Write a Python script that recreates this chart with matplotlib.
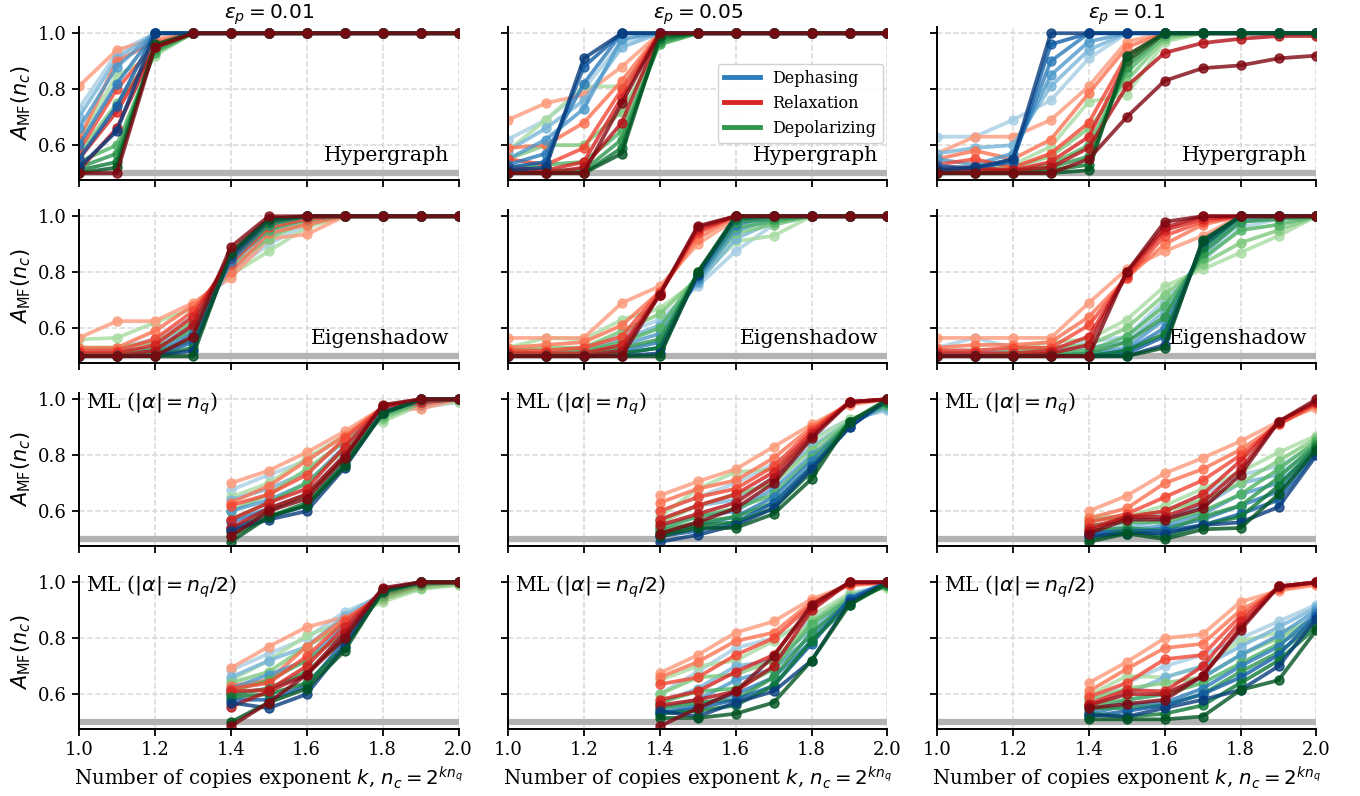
import numpy as np
import matplotlib
matplotlib.use("Agg")
import matplotlib.pyplot as plt
from matplotlib.lines import Line2D

plt.rcParams['font.family'] = ['DejaVu Serif']
plt.rcParams['mathtext.fontset'] = 'dejavusans'

# copy exponents k
K_FULL = [1.0, 1.1, 1.2, 1.3, 1.4, 1.5, 1.6, 1.7, 1.8, 1.9, 2.0]
K_ML = [1.4, 1.5, 1.6, 1.7, 1.8, 1.9, 2.0]

EPS_LABELS = ['0.01', '0.05', '0.1']
NOISE_NAMES = ['Dephasing', 'Relaxation', 'Depolarizing']
METHOD_LABELS = ['Hypergraph', 'Eigenshadow',
                 r'ML ($|\alpha| = n_q$)', r'ML ($|\alpha| = n_q/2$)']
RANDOM_GUESS = 0.5

# ---------------- Hypergraph, eps_p = 0.01 (rows: increasing n_q) ----------------
HYP_E001_DEPH = [
    [0.73, 0.93, 1.0, 1.0, 1.0, 1.0, 1.0, 1.0, 1.0, 1.0, 1.0],
    [0.70, 0.91, 1.0, 1.0, 1.0, 1.0, 1.0, 1.0, 1.0, 1.0, 1.0],
    [0.66, 0.88, 1.0, 1.0, 1.0, 1.0, 1.0, 1.0, 1.0, 1.0, 1.0],
    [0.60, 0.82, 1.0, 1.0, 1.0, 1.0, 1.0, 1.0, 1.0, 1.0, 1.0],
    [0.55, 0.74, 1.0, 1.0, 1.0, 1.0, 1.0, 1.0, 1.0, 1.0, 1.0],
    [0.52, 0.65, 1.0, 1.0, 1.0, 1.0, 1.0, 1.0, 1.0, 1.0, 1.0],
]
HYP_E001_RELAX = [
    [0.81, 0.94, 0.98, 1.0, 1.0, 1.0, 1.0, 1.0, 1.0, 1.0, 1.0],
    [0.62, 0.90, 0.97, 1.0, 1.0, 1.0, 1.0, 1.0, 1.0, 1.0, 1.0],
    [0.58, 0.80, 0.96, 1.0, 1.0, 1.0, 1.0, 1.0, 1.0, 1.0, 1.0],
    [0.55, 0.72, 0.95, 1.0, 1.0, 1.0, 1.0, 1.0, 1.0, 1.0, 1.0],
    [0.51, 0.66, 0.95, 1.0, 1.0, 1.0, 1.0, 1.0, 1.0, 1.0, 1.0],
    [0.50, 0.50, 0.95, 1.0, 1.0, 1.0, 1.0, 1.0, 1.0, 1.0, 1.0],
]
HYP_E001_DEPOL = [
    [0.62, 0.85, 0.92, 1.0, 1.0, 1.0, 1.0, 1.0, 1.0, 1.0, 1.0],
    [0.57, 0.75, 0.93, 1.0, 1.0, 1.0, 1.0, 1.0, 1.0, 1.0, 1.0],
    [0.54, 0.60, 0.93, 1.0, 1.0, 1.0, 1.0, 1.0, 1.0, 1.0, 1.0],
    [0.52, 0.57, 0.94, 1.0, 1.0, 1.0, 1.0, 1.0, 1.0, 1.0, 1.0],
    [0.51, 0.54, 0.95, 1.0, 1.0, 1.0, 1.0, 1.0, 1.0, 1.0, 1.0],
    [0.50, 0.52, 0.96, 1.0, 1.0, 1.0, 1.0, 1.0, 1.0, 1.0, 1.0],
]

# ---------------- Hypergraph, eps_p = 0.05 ----------------
HYP_E005_DEPH = [
    [0.62, 0.69, 0.80, 0.97, 1.0, 1.0, 1.0, 1.0, 1.0, 1.0, 1.0],
    [0.58, 0.66, 0.76, 0.95, 1.0, 1.0, 1.0, 1.0, 1.0, 1.0, 1.0],
    [0.55, 0.62, 0.73, 0.98, 1.0, 1.0, 1.0, 1.0, 1.0, 1.0, 1.0],
    [0.53, 0.57, 0.82, 1.0, 1.0, 1.0, 1.0, 1.0, 1.0, 1.0, 1.0],
    [0.52, 0.54, 0.88, 1.0, 1.0, 1.0, 1.0, 1.0, 1.0, 1.0, 1.0],
    [0.51, 0.52, 0.91, 1.0, 1.0, 1.0, 1.0, 1.0, 1.0, 1.0, 1.0],
]
HYP_E005_RELAX = [
    [0.69, 0.75, 0.78, 0.88, 1.0, 1.0, 1.0, 1.0, 1.0, 1.0, 1.0],
    [0.59, 0.60, 0.68, 0.83, 1.0, 1.0, 1.0, 1.0, 1.0, 1.0, 1.0],
    [0.55, 0.53, 0.59, 0.80, 1.0, 1.0, 1.0, 1.0, 1.0, 1.0, 1.0],
    [0.52, 0.51, 0.54, 0.77, 1.0, 1.0, 1.0, 1.0, 1.0, 1.0, 1.0],
    [0.51, 0.50, 0.52, 0.68, 1.0, 1.0, 1.0, 1.0, 1.0, 1.0, 1.0],
    [0.50, 0.50, 0.50, 0.75, 1.0, 1.0, 1.0, 1.0, 1.0, 1.0, 1.0],
]
HYP_E005_DEPOL = [
    [0.58, 0.69, 0.81, 0.81, 0.97, 1.0, 1.0, 1.0, 1.0, 1.0, 1.0],
    [0.55, 0.60, 0.60, 0.72, 0.96, 1.0, 1.0, 1.0, 1.0, 1.0, 1.0],
    [0.52, 0.53, 0.54, 0.65, 0.96, 1.0, 1.0, 1.0, 1.0, 1.0, 1.0],
    [0.51, 0.51, 0.51, 0.62, 0.97, 1.0, 1.0, 1.0, 1.0, 1.0, 1.0],
    [0.50, 0.50, 0.50, 0.59, 0.98, 1.0, 1.0, 1.0, 1.0, 1.0, 1.0],
    [0.50, 0.50, 0.50, 0.57, 0.99, 1.0, 1.0, 1.0, 1.0, 1.0, 1.0],
]

# ---------------- Hypergraph, eps_p = 0.1 ----------------
HYP_E010_DEPH = [
    [0.63, 0.63, 0.69, 0.76, 0.91, 1.0, 1.0, 1.0, 1.0, 1.0, 1.0],
    [0.57, 0.59, 0.60, 0.81, 0.94, 1.0, 1.0, 1.0, 1.0, 1.0, 1.0],
    [0.55, 0.53, 0.57, 0.85, 0.97, 1.0, 1.0, 1.0, 1.0, 1.0, 1.0],
    [0.53, 0.51, 0.55, 0.90, 1.0, 1.0, 1.0, 1.0, 1.0, 1.0, 1.0],
    [0.52, 0.52, 0.54, 0.96, 1.0, 1.0, 1.0, 1.0, 1.0, 1.0, 1.0],
    [0.51, 0.52, 0.55, 1.0, 1.0, 1.0, 1.0, 1.0, 1.0, 1.0, 1.0],
]
HYP_E010_RELAX = [
    [0.57, 0.63, 0.63, 0.69, 0.81, 0.97, 1.0, 1.0, 1.0, 1.0, 1.0],
    [0.55, 0.58, 0.55, 0.62, 0.785, 0.95, 1.0, 1.0, 1.0, 1.0, 1.0],
    [0.53, 0.55, 0.52, 0.57, 0.68, 0.92, 1.0, 1.0, 1.0, 1.0, 1.0],
    [0.52, 0.52, 0.51, 0.54, 0.63, 0.90, 1.0, 1.0, 1.0, 1.0, 1.0],
    [0.51, 0.51, 0.51, 0.52, 0.59, 0.81, 0.93, 0.965, 0.98, 0.99, 0.99],
    [0.50, 0.50, 0.50, 0.50, 0.55, 0.70, 0.83, 0.875, 0.885, 0.91, 0.92],
]
HYP_E010_DEPOL = [
    [0.52, 0.52, 0.53, 0.595, 0.755, 0.78, 0.97, 1.0, 1.0, 1.0, 1.0],
    [0.51, 0.51, 0.52, 0.56, 0.66, 0.83, 0.98, 1.0, 1.0, 1.0, 1.0],
    [0.50, 0.51, 0.51, 0.53, 0.60, 0.86, 0.99, 1.0, 1.0, 1.0, 1.0],
    [0.50, 0.50, 0.50, 0.52, 0.56, 0.88, 1.0, 1.0, 1.0, 1.0, 1.0],
    [0.50, 0.50, 0.50, 0.51, 0.53, 0.90, 1.0, 1.0, 1.0, 1.0, 1.0],
    [0.50, 0.50, 0.50, 0.50, 0.51, 0.92, 1.0, 1.0, 1.0, 1.0, 1.0],
]

# ---------------- Eigenshadow, eps_p = 0.01 ----------------
EIG_E001_DEPH = [
    [0.52, 0.53, 0.56, 0.64, 0.80, 0.90, 0.97, 1.0, 1.0, 1.0, 1.0],
    [0.51, 0.52, 0.53, 0.62, 0.81, 0.93, 0.98, 1.0, 1.0, 1.0, 1.0],
    [0.50, 0.51, 0.52, 0.60, 0.83, 0.95, 0.99, 1.0, 1.0, 1.0, 1.0],
    [0.50, 0.50, 0.51, 0.58, 0.84, 0.97, 1.0, 1.0, 1.0, 1.0, 1.0],
    [0.50, 0.50, 0.50, 0.55, 0.85, 0.98, 1.0, 1.0, 1.0, 1.0, 1.0],
    [0.50, 0.50, 0.50, 0.52, 0.86, 0.99, 1.0, 1.0, 1.0, 1.0, 1.0],
]
EIG_E001_RELAX = [
    [0.565, 0.625, 0.625, 0.69, 0.78, 0.92, 0.935, 1.0, 1.0, 1.0, 1.0],
    [0.53, 0.53, 0.59, 0.68, 0.80, 0.94, 0.97, 1.0, 1.0, 1.0, 1.0],
    [0.52, 0.52, 0.56, 0.66, 0.83, 0.96, 0.99, 1.0, 1.0, 1.0, 1.0],
    [0.51, 0.51, 0.54, 0.64, 0.85, 0.98, 1.0, 1.0, 1.0, 1.0, 1.0],
    [0.50, 0.50, 0.52, 0.61, 0.87, 0.99, 1.0, 1.0, 1.0, 1.0, 1.0],
    [0.50, 0.50, 0.50, 0.57, 0.89, 1.0, 1.0, 1.0, 1.0, 1.0, 1.0],
]
EIG_E001_DEPOL = [
    [0.56, 0.565, 0.62, 0.67, 0.79, 0.875, 0.96, 1.0, 1.0, 1.0, 1.0],
    [0.53, 0.53, 0.55, 0.62, 0.82, 0.92, 0.98, 1.0, 1.0, 1.0, 1.0],
    [0.51, 0.51, 0.53, 0.59, 0.84, 0.95, 0.99, 1.0, 1.0, 1.0, 1.0],
    [0.50, 0.50, 0.51, 0.56, 0.85, 0.97, 1.0, 1.0, 1.0, 1.0, 1.0],
    [0.50, 0.50, 0.50, 0.53, 0.86, 0.98, 1.0, 1.0, 1.0, 1.0, 1.0],
    [0.50, 0.50, 0.50, 0.50, 0.87, 0.99, 1.0, 1.0, 1.0, 1.0, 1.0],
]

# ---------------- Eigenshadow, eps_p = 0.05 ----------------
EIG_E005_DEPH = [
    [0.51, 0.51, 0.53, 0.58, 0.63, 0.75, 0.875, 0.97, 1.0, 1.0, 1.0],
    [0.50, 0.50, 0.52, 0.56, 0.61, 0.76, 0.92, 0.98, 1.0, 1.0, 1.0],
    [0.50, 0.50, 0.51, 0.54, 0.58, 0.77, 0.95, 0.99, 1.0, 1.0, 1.0],
    [0.50, 0.50, 0.50, 0.52, 0.55, 0.78, 0.97, 1.0, 1.0, 1.0, 1.0],
    [0.50, 0.50, 0.50, 0.51, 0.53, 0.79, 0.99, 1.0, 1.0, 1.0, 1.0],
    [0.50, 0.50, 0.50, 0.50, 0.51, 0.79, 1.0, 1.0, 1.0, 1.0, 1.0],
]
EIG_E005_RELAX = [
    [0.565, 0.565, 0.565, 0.69, 0.75, 0.90, 0.99, 1.0, 1.0, 1.0, 1.0],
    [0.53, 0.54, 0.55, 0.61, 0.73, 0.92, 1.0, 1.0, 1.0, 1.0, 1.0],
    [0.52, 0.52, 0.53, 0.57, 0.73, 0.94, 1.0, 1.0, 1.0, 1.0, 1.0],
    [0.51, 0.51, 0.51, 0.54, 0.72, 0.95, 1.0, 1.0, 1.0, 1.0, 1.0],
    [0.50, 0.50, 0.50, 0.52, 0.72, 0.96, 1.0, 1.0, 1.0, 1.0, 1.0],
    [0.50, 0.50, 0.50, 0.50, 0.72, 0.965, 1.0, 1.0, 1.0, 1.0, 1.0],
]
EIG_E005_DEPOL = [
    [0.53, 0.565, 0.56, 0.63, 0.67, 0.77, 0.91, 0.93, 1.0, 1.0, 1.0],
    [0.52, 0.53, 0.53, 0.59, 0.65, 0.78, 0.94, 0.97, 1.0, 1.0, 1.0],
    [0.51, 0.51, 0.52, 0.55, 0.60, 0.79, 0.96, 0.98, 1.0, 1.0, 1.0],
    [0.50, 0.50, 0.51, 0.53, 0.56, 0.79, 0.98, 0.99, 1.0, 1.0, 1.0],
    [0.50, 0.50, 0.50, 0.51, 0.53, 0.80, 0.99, 1.0, 1.0, 1.0, 1.0],
    [0.50, 0.50, 0.50, 0.50, 0.50, 0.80, 1.0, 1.0, 1.0, 1.0, 1.0],
]

# ---------------- Eigenshadow, eps_p = 0.1 ----------------
EIG_E010_DEPH = [
    [0.53, 0.565, 0.53, 0.53, 0.55, 0.57, 0.70, 0.84, 0.96, 0.99, 1.0],
    [0.52, 0.52, 0.52, 0.52, 0.53, 0.55, 0.66, 0.86, 0.98, 1.0, 1.0],
    [0.51, 0.51, 0.51, 0.51, 0.51, 0.53, 0.63, 0.88, 0.99, 1.0, 1.0],
    [0.50, 0.50, 0.50, 0.50, 0.50, 0.52, 0.60, 0.89, 1.0, 1.0, 1.0],
    [0.50, 0.50, 0.50, 0.50, 0.50, 0.51, 0.57, 0.90, 1.0, 1.0, 1.0],
    [0.50, 0.50, 0.50, 0.50, 0.50, 0.50, 0.54, 0.91, 1.0, 1.0, 1.0],
]
EIG_E010_RELAX = [
    [0.565, 0.565, 0.565, 0.565, 0.69, 0.81, 0.875, 0.93, 1.0, 1.0, 1.0],
    [0.53, 0.54, 0.54, 0.55, 0.64, 0.78, 0.90, 0.97, 1.0, 1.0, 1.0],
    [0.52, 0.52, 0.53, 0.53, 0.61, 0.78, 0.93, 0.98, 1.0, 1.0, 1.0],
    [0.51, 0.51, 0.51, 0.52, 0.57, 0.79, 0.95, 0.99, 1.0, 1.0, 1.0],
    [0.50, 0.50, 0.50, 0.51, 0.54, 0.80, 0.96, 1.0, 1.0, 1.0, 1.0],
    [0.50, 0.50, 0.50, 0.50, 0.50, 0.80, 0.98, 1.0, 1.0, 1.0, 1.0],
]
EIG_E010_DEPOL = [
    [0.52, 0.50, 0.53, 0.55, 0.56, 0.63, 0.75, 0.81, 0.87, 0.93, 1.0],
    [0.51, 0.50, 0.52, 0.53, 0.54, 0.60, 0.72, 0.83, 0.905, 0.95, 1.0],
    [0.50, 0.50, 0.51, 0.51, 0.52, 0.57, 0.68, 0.85, 0.95, 0.97, 1.0],
    [0.50, 0.50, 0.50, 0.50, 0.51, 0.55, 0.64, 0.87, 0.98, 0.99, 1.0],
    [0.50, 0.50, 0.50, 0.50, 0.50, 0.52, 0.58, 0.89, 1.0, 1.0, 1.0],
    [0.50, 0.50, 0.50, 0.50, 0.50, 0.50, 0.53, 0.915, 1.0, 1.0, 1.0],
]

# ---------------- ML |alpha| = n_q, eps_p = 0.01 ----------------
MLF_E001_DEPH = [
    [0.675, 0.73, 0.78, 0.87, 0.95, 0.97, 0.99],
    [0.64, 0.68, 0.74, 0.85, 0.96, 0.98, 1.0],
    [0.60, 0.64, 0.70, 0.83, 0.96, 0.99, 1.0],
    [0.56, 0.61, 0.66, 0.80, 0.96, 0.99, 1.0],
    [0.54, 0.58, 0.62, 0.77, 0.95, 1.0, 1.0],
    [0.53, 0.57, 0.60, 0.755, 0.95, 1.0, 1.0],
]
MLF_E001_RELAX = [
    [0.70, 0.745, 0.81, 0.885, 0.97, 0.965, 1.0],
    [0.63, 0.69, 0.78, 0.87, 0.97, 0.98, 1.0],
    [0.62, 0.66, 0.73, 0.86, 0.97, 0.99, 1.0],
    [0.57, 0.63, 0.68, 0.83, 0.975, 0.99, 1.0],
    [0.54, 0.61, 0.66, 0.80, 0.975, 1.0, 1.0],
    [0.51, 0.60, 0.645, 0.79, 0.98, 1.0, 1.0],
]
MLF_E001_DEPOL = [
    [0.65, 0.70, 0.79, 0.87, 0.92, 0.98, 0.99],
    [0.60, 0.66, 0.75, 0.85, 0.93, 0.985, 1.0],
    [0.57, 0.63, 0.70, 0.82, 0.94, 0.99, 1.0],
    [0.53, 0.60, 0.66, 0.79, 0.95, 0.995, 1.0],
    [0.51, 0.58, 0.63, 0.77, 0.95, 1.0, 1.0],
    [0.49, 0.58, 0.62, 0.76, 0.95, 1.0, 1.0],
]

# ---------------- ML |alpha| = n_q, eps_p = 0.05 ----------------
MLF_E005_DEPH = [
    [0.60, 0.65, 0.70, 0.77, 0.86, 0.93, 0.96],
    [0.57, 0.62, 0.64, 0.72, 0.83, 0.92, 0.97],
    [0.54, 0.58, 0.60, 0.68, 0.80, 0.91, 0.98],
    [0.52, 0.55, 0.58, 0.65, 0.78, 0.91, 0.99],
    [0.51, 0.53, 0.56, 0.63, 0.76, 0.90, 1.0],
    [0.49, 0.515, 0.55, 0.61, 0.75, 0.90, 1.0],
]
MLF_E005_RELAX = [
    [0.656, 0.706, 0.75, 0.83, 0.91, 0.98, 1.0],
    [0.63, 0.68, 0.71, 0.79, 0.90, 0.985, 1.0],
    [0.60, 0.65, 0.68, 0.76, 0.89, 0.99, 1.0],
    [0.57, 0.62, 0.66, 0.74, 0.88, 0.99, 1.0],
    [0.55, 0.59, 0.63, 0.72, 0.87, 0.99, 1.0],
    [0.52, 0.56, 0.61, 0.70, 0.86, 0.99, 1.0],
]
MLF_E005_DEPOL = [
    [0.58, 0.68, 0.74, 0.75, 0.85, 0.93, 0.97],
    [0.56, 0.62, 0.66, 0.70, 0.82, 0.92, 0.98],
    [0.54, 0.58, 0.61, 0.66, 0.79, 0.92, 0.98],
    [0.53, 0.56, 0.58, 0.63, 0.76, 0.92, 0.99],
    [0.52, 0.55, 0.56, 0.61, 0.74, 0.92, 0.99],
    [0.51, 0.54, 0.54, 0.59, 0.715, 0.92, 1.0],
]

# ---------------- ML |alpha| = n_q, eps_p = 0.1 ----------------
MLF_E010_DEPH = [
    [0.55, 0.55, 0.60, 0.66, 0.73, 0.76, 0.84],
    [0.53, 0.54, 0.57, 0.62, 0.70, 0.73, 0.83],
    [0.52, 0.53, 0.55, 0.59, 0.66, 0.70, 0.82],
    [0.51, 0.52, 0.54, 0.57, 0.62, 0.67, 0.82],
    [0.52, 0.53, 0.53, 0.55, 0.59, 0.64, 0.81],
    [0.51, 0.52, 0.52, 0.55, 0.56, 0.615, 0.80],
]
MLF_E010_RELAX = [
    [0.60, 0.655, 0.735, 0.79, 0.85, 0.92, 0.97],
    [0.575, 0.61, 0.70, 0.75, 0.82, 0.91, 0.98],
    [0.56, 0.59, 0.65, 0.71, 0.80, 0.91, 0.985],
    [0.54, 0.58, 0.60, 0.66, 0.78, 0.92, 0.99],
    [0.53, 0.58, 0.58, 0.63, 0.75, 0.92, 0.99],
    [0.52, 0.57, 0.57, 0.61, 0.73, 0.92, 1.0],
]
MLF_E010_DEPOL = [
    [0.58, 0.58, 0.62, 0.68, 0.74, 0.81, 0.87],
    [0.57, 0.575, 0.60, 0.64, 0.70, 0.78, 0.86],
    [0.55, 0.56, 0.56, 0.60, 0.66, 0.75, 0.85],
    [0.53, 0.54, 0.53, 0.58, 0.62, 0.72, 0.84],
    [0.50, 0.53, 0.51, 0.55, 0.58, 0.69, 0.83],
    [0.49, 0.52, 0.50, 0.535, 0.54, 0.66, 0.82],
]

# ---------------- ML |alpha| = n_q/2, eps_p = 0.01 ----------------
MLH_E001_DEPH = [
    [0.685, 0.745, 0.80, 0.895, 0.95, 0.985, 0.995],
    [0.66, 0.72, 0.77, 0.88, 0.96, 0.99, 1.0],
    [0.62, 0.67, 0.72, 0.85, 0.965, 0.995, 1.0],
    [0.60, 0.62, 0.67, 0.82, 0.97, 1.0, 1.0],
    [0.58, 0.58, 0.63, 0.79, 0.97, 1.0, 1.0],
    [0.57, 0.55, 0.60, 0.77, 0.97, 1.0, 1.0],
]
MLH_E001_RELAX = [
    [0.693, 0.77, 0.84, 0.875, 0.94, 0.985, 0.995],
    [0.63, 0.65, 0.77, 0.87, 0.95, 0.99, 1.0],
    [0.62, 0.64, 0.735, 0.86, 0.96, 0.995, 1.0],
    [0.61, 0.615, 0.70, 0.84, 0.97, 1.0, 1.0],
    [0.555, 0.61, 0.67, 0.82, 0.975, 1.0, 1.0],
    [0.485, 0.57, 0.67, 0.80, 0.98, 1.0, 1.0],
]
MLH_E001_DEPOL = [
    [0.65, 0.72, 0.81, 0.86, 0.93, 0.975, 0.99],
    [0.64, 0.68, 0.77, 0.85, 0.94, 0.98, 0.995],
    [0.61, 0.65, 0.72, 0.82, 0.95, 0.99, 1.0],
    [0.60, 0.62, 0.68, 0.80, 0.96, 0.995, 1.0],
    [0.59, 0.60, 0.64, 0.77, 0.965, 1.0, 1.0],
    [0.50, 0.57, 0.62, 0.755, 0.97, 1.0, 1.0],
]

# ---------------- ML |alpha| = n_q/2, eps_p = 0.05 ----------------
MLH_E005_DEPH = [
    [0.60, 0.68, 0.765, 0.80, 0.86, 0.96, 0.99],
    [0.57, 0.62, 0.70, 0.72, 0.83, 0.95, 0.995],
    [0.55, 0.58, 0.65, 0.69, 0.81, 0.945, 1.0],
    [0.535, 0.56, 0.60, 0.66, 0.79, 0.94, 1.0],
    [0.53, 0.55, 0.58, 0.63, 0.78, 0.94, 1.0],
    [0.54, 0.52, 0.57, 0.61, 0.72, 0.93, 1.0],
]
MLH_E005_RELAX = [
    [0.675, 0.74, 0.82, 0.86, 0.94, 0.99, 0.995],
    [0.66, 0.715, 0.79, 0.82, 0.93, 0.99, 1.0],
    [0.635, 0.66, 0.74, 0.80, 0.92, 0.995, 1.0],
    [0.58, 0.61, 0.68, 0.74, 0.91, 1.0, 1.0],
    [0.56, 0.58, 0.61, 0.70, 0.90, 1.0, 1.0],
    [0.485, 0.55, 0.61, 0.735, 0.92, 1.0, 1.0],
]
MLH_E005_DEPOL = [
    [0.65, 0.70, 0.72, 0.79, 0.88, 0.96, 0.98],
    [0.60, 0.66, 0.67, 0.72, 0.86, 0.95, 0.985],
    [0.57, 0.61, 0.62, 0.69, 0.85, 0.94, 0.99],
    [0.55, 0.57, 0.58, 0.66, 0.82, 0.93, 0.99],
    [0.53, 0.54, 0.56, 0.63, 0.79, 0.92, 0.995],
    [0.515, 0.515, 0.53, 0.57, 0.72, 0.92, 1.0],
]

# ---------------- ML |alpha| = n_q/2, eps_p = 0.1 ----------------
MLH_E010_DEPH = [
    [0.58, 0.64, 0.70, 0.74, 0.80, 0.86, 0.92],
    [0.56, 0.60, 0.66, 0.70, 0.77, 0.84, 0.91],
    [0.54, 0.58, 0.60, 0.66, 0.74, 0.81, 0.90],
    [0.53, 0.56, 0.57, 0.62, 0.70, 0.77, 0.89],
    [0.52, 0.54, 0.56, 0.60, 0.66, 0.74, 0.88],
    [0.525, 0.52, 0.55, 0.58, 0.615, 0.70, 0.87],
]
MLH_E010_RELAX = [
    [0.64, 0.715, 0.80, 0.814, 0.93, 0.97, 0.99],
    [0.61, 0.69, 0.765, 0.78, 0.90, 0.975, 0.995],
    [0.59, 0.64, 0.725, 0.74, 0.88, 0.98, 1.0],
    [0.565, 0.615, 0.61, 0.70, 0.86, 0.985, 1.0],
    [0.56, 0.60, 0.60, 0.665, 0.84, 0.985, 1.0],
    [0.55, 0.565, 0.58, 0.665, 0.83, 0.985, 1.0],
]
MLH_E010_DEPOL = [
    [0.595, 0.665, 0.66, 0.70, 0.79, 0.82, 0.87],
    [0.58, 0.62, 0.64, 0.66, 0.74, 0.80, 0.87],
    [0.56, 0.58, 0.60, 0.64, 0.71, 0.78, 0.86],
    [0.55, 0.55, 0.56, 0.60, 0.68, 0.75, 0.85],
    [0.53, 0.52, 0.53, 0.56, 0.64, 0.72, 0.84],
    [0.51, 0.51, 0.51, 0.52, 0.615, 0.65, 0.83],
]

# panel grid: rows = method, columns = eps_p; each entry (dephasing, relaxation, depolarizing)
PANELS = [
    [(HYP_E001_DEPH, HYP_E001_RELAX, HYP_E001_DEPOL),
     (HYP_E005_DEPH, HYP_E005_RELAX, HYP_E005_DEPOL),
     (HYP_E010_DEPH, HYP_E010_RELAX, HYP_E010_DEPOL)],
    [(EIG_E001_DEPH, EIG_E001_RELAX, EIG_E001_DEPOL),
     (EIG_E005_DEPH, EIG_E005_RELAX, EIG_E005_DEPOL),
     (EIG_E010_DEPH, EIG_E010_RELAX, EIG_E010_DEPOL)],
    [(MLF_E001_DEPH, MLF_E001_RELAX, MLF_E001_DEPOL),
     (MLF_E005_DEPH, MLF_E005_RELAX, MLF_E005_DEPOL),
     (MLF_E010_DEPH, MLF_E010_RELAX, MLF_E010_DEPOL)],
    [(MLH_E001_DEPH, MLH_E001_RELAX, MLH_E001_DEPOL),
     (MLH_E005_DEPH, MLH_E005_RELAX, MLH_E005_DEPOL),
     (MLH_E010_DEPH, MLH_E010_RELAX, MLH_E010_DEPOL)],
]
ROW_K = [K_FULL, K_FULL, K_ML, K_ML]

CMAPS = [plt.cm.Blues, plt.cm.Reds, plt.cm.Greens]
N_LEVELS = 6
SHADES = np.linspace(0.35, 0.95, N_LEVELS)
DRAW_ORDER = [0, 2, 1]  # dephasing, depolarizing, relaxation

fig = plt.figure(figsize=(13.6, 7.96), dpi=100)
gs = fig.add_gridspec(4, 3, left=0.058, right=0.968, top=0.966, bottom=0.084,
                      wspace=0.13, hspace=0.196)
axes = np.empty((4, 3), dtype=object)
for r in range(4):
    for c in range(3):
        kw = {}
        if r > 0:
            kw['sharex'] = axes[0, 0]
        if c > 0:
            kw['sharey'] = axes[r, 0]
        axes[r, c] = fig.add_subplot(gs[r, c], **kw)

for r in range(4):
    ks = ROW_K[r]
    for c in range(3):
        ax = axes[r, c]
        ax.axhline(RANDOM_GUESS, color='#b3b3b3', lw=4.5, zorder=1)
        series = PANELS[r][c]
        for lvl in range(N_LEVELS):
            for t in DRAW_ORDER:
                col = CMAPS[t](SHADES[lvl])
                ax.plot(ks, series[t][lvl], '-o', color=col, lw=2.7, ms=6.5,
                        alpha=0.8, zorder=2)
        ax.set_xlim(1.0, 2.0)
        ax.set_ylim(0.475, 1.022)
        ax.set_xticks([1.0, 1.2, 1.4, 1.6, 1.8, 2.0])
        ax.set_yticks([0.6, 0.8, 1.0])
        ax.grid(True, ls='--', color='#d9d9d9', lw=1.1)
        ax.set_axisbelow(True)
        for s in ['top', 'right']:
            ax.spines[s].set_visible(False)
        for s in ['left', 'bottom']:
            ax.spines[s].set_linewidth(1.4)
        ax.tick_params(labelsize=13, width=1.3, length=5)
        if r < 3:
            ax.tick_params(labelbottom=False)
        else:
            ax.set_xlabel(r'Number of copies exponent $k$, $n_c = 2^{kn_q}$', fontsize=14.2)
        if c > 0:
            ax.tick_params(labelleft=False)
        else:
            ax.set_ylabel(r'$A_{\rm MF}(n_c)$', fontsize=15)
        if r == 0:
            ax.set_title(r'$\epsilon_p = $' + r'$' + EPS_LABELS[c] + r'$', fontsize=14.5)
        if r < 2:
            ax.text(0.976, 0.125, METHOD_LABELS[r], transform=ax.transAxes,
                    ha='right', va='baseline', fontsize=14.7, zorder=5)
        else:
            ax.text(0.02, 0.895, METHOD_LABELS[r], transform=ax.transAxes,
                    ha='left', va='baseline', fontsize=14.7, zorder=5)

handles = [Line2D([0], [0], color=CMAPS[t](0.7), lw=3.5) for t in range(3)]
axes[0, 1].legend(handles, NOISE_NAMES, loc='center right', fontsize=11.5,
                  framealpha=0.9, handlelength=2.2, borderaxespad=0.3)

fig.savefig('out.png', dpi=100)
